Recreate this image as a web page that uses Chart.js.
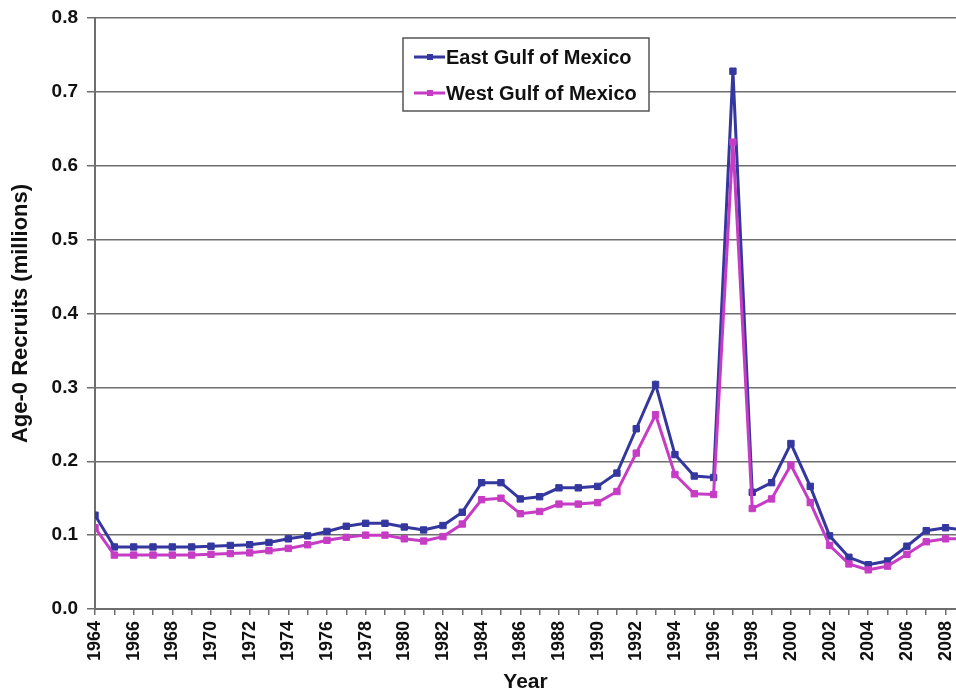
<!DOCTYPE html>
<html lang="en">
<head>
    <meta charset="UTF-8">
    <title>Age-0 Recruits, Gulf of Mexico</title>
    <script src="https://cdn.jsdelivr.net/npm/chart.js"></script>
    <style>
        body { margin: 0; background: #fff; }
        #wrap { width: 956px; height: 695px; }
    </style>
</head>
<body>
    <div id="wrap"><canvas id="recruitChart" width="956" height="695"></canvas></div>

    <script>
        var years = [1964, 1965, 1966, 1967, 1968, 1969, 1970, 1971, 1972, 1973,
                     1974, 1975, 1976, 1977, 1978, 1979, 1980, 1981, 1982, 1983,
                     1984, 1985, 1986, 1987, 1988, 1989, 1990, 1991, 1992, 1993,
                     1994, 1995, 1996, 1997, 1998, 1999, 2000, 2001, 2002, 2003,
                     2004, 2005, 2006, 2007, 2008, 2009];

        var eastGulf = [0.127, 0.084, 0.084, 0.084, 0.084, 0.084, 0.085, 0.086, 0.087, 0.090,
                        0.095, 0.099, 0.105, 0.112, 0.116, 0.116, 0.111, 0.107, 0.113, 0.131,
                        0.171, 0.171, 0.149, 0.152, 0.164, 0.164, 0.166, 0.184, 0.244, 0.304,
                        0.209, 0.180, 0.178, 0.728, 0.158, 0.171, 0.224, 0.166, 0.099, 0.070,
                        0.060, 0.065, 0.085, 0.106, 0.110, 0.107];

        var westGulf = [0.110, 0.073, 0.073, 0.073, 0.073, 0.073, 0.074, 0.075, 0.076, 0.079,
                        0.082, 0.087, 0.093, 0.097, 0.100, 0.100, 0.095, 0.092, 0.098, 0.115,
                        0.148, 0.150, 0.129, 0.132, 0.142, 0.142, 0.144, 0.159, 0.211, 0.263,
                        0.182, 0.156, 0.155, 0.632, 0.136, 0.149, 0.195, 0.144, 0.086, 0.061,
                        0.053, 0.058, 0.074, 0.091, 0.095, 0.095];

        var seriesNames = ['East Gulf of Mexico', 'West Gulf of Mexico'];
        var seriesColors = ['#33379e', '#c63cc4'];

        var FONT = '"Liberation Sans", Arial, sans-serif';
        var AXIS_GRAY = '#6e6e6e';

        function toPoints(vals) {
            return vals.map(function (v, i) { return { x: years[i], y: v }; });
        }

        // white page behind the canvas
        var whiteBg = {
            id: 'whiteBg',
            beforeDraw: function (chart) {
                var c = chart.ctx;
                c.save();
                c.fillStyle = '#fff';
                c.fillRect(0, 0, chart.width, chart.height);
                c.restore();
            }
        };

        // boxed legend sitting inside the plot
        var boxLegend = {
            id: 'boxLegend',
            afterDraw: function (chart) {
                var c = chart.ctx;
                var bx = 403, by = 38, bw = 246, bh = 73;
                c.save();
                c.fillStyle = '#fff';
                c.fillRect(bx, by, bw, bh);
                c.strokeStyle = '#555';
                c.lineWidth = 1.5;
                c.strokeRect(bx, by, bw, bh);
                c.font = 'bold 20px ' + FONT;
                c.textBaseline = 'middle';
                chart.data.datasets.forEach(function (ds, i) {
                    var y = by + 19 + i * 36;
                    c.strokeStyle = ds.borderColor;
                    c.lineWidth = 3;
                    c.beginPath();
                    c.moveTo(414, y);
                    c.lineTo(445, y);
                    c.stroke();
                    c.fillStyle = ds.borderColor;
                    c.fillRect(427, y - 3, 6, 6);
                    c.fillStyle = '#111';
                    c.fillText(ds.label, 446, y + 1);
                });
                c.restore();
            }
        };

        var ctx = document.getElementById('recruitChart').getContext('2d');
        var recruitChart = new Chart(ctx, {
            type: 'line',
            data: {
                datasets: [
                    {
                        label: seriesNames[0],
                        data: toPoints(eastGulf),
                        borderColor: seriesColors[0],
                        backgroundColor: seriesColors[0],
                        borderWidth: 3,
                        pointStyle: 'rect',
                        pointRadius: 4.5,
                        pointBorderWidth: 1,
                        order: 1
                    },
                    {
                        label: seriesNames[1],
                        data: toPoints(westGulf),
                        borderColor: seriesColors[1],
                        backgroundColor: seriesColors[1],
                        borderWidth: 3,
                        pointStyle: 'rect',
                        pointRadius: 4.5,
                        pointBorderWidth: 1,
                        order: 0
                    }
                ]
            },
            options: {
                responsive: false,
                animation: false,
                layout: { autoPadding: false, padding: { top: 18, right: 0, bottom: 0, left: 0 } },
                plugins: {
                    legend: { display: false },
                    tooltip: { enabled: false }
                },
                scales: {
                    x: {
                        type: 'linear',
                        min: 1964,
                        max: 2008.54,
                        afterFit: function (s) { s.height = 86; s.paddingLeft = 0; s.paddingRight = 0; },
                        grid: { drawOnChartArea: false, drawTicks: true, tickLength: 6, color: AXIS_GRAY, lineWidth: 1.5 },
                        border: { color: AXIS_GRAY, width: 2 },
                        ticks: {
                            stepSize: 1,
                            autoSkip: false,
                            includeBounds: false,
                            maxRotation: 90,
                            minRotation: 90,
                            padding: 6,
                            color: '#111',
                            font: { family: FONT, size: 18, weight: 'bold' },
                            callback: function (v) {
                                var yr = Math.round(v);
                                return (Math.abs(v - yr) < 1e-6 && yr % 2 === 0) ? String(yr) : '';
                            }
                        },
                        title: {
                            display: true,
                            text: 'Year',
                            color: '#111',
                            padding: { top: 0, bottom: 0 },
                            font: { family: FONT, size: 21, weight: 'bold' }
                        }
                    },
                    y: {
                        min: 0,
                        max: 0.8,
                        afterFit: function (s) { s.width = 95; s.paddingTop = 0; s.paddingBottom = 0; },
                        grid: { color: AXIS_GRAY, lineWidth: 1.5, tickLength: 8 },
                        border: { color: AXIS_GRAY, width: 2 },
                        ticks: {
                            stepSize: 0.1,
                            padding: 9,
                            color: '#111',
                            font: { family: FONT, size: 19, weight: 'bold' },
                            callback: function (v) { return v.toFixed(1); }
                        },
                        title: {
                            display: true,
                            text: 'Age-0 Recruits (millions)',
                            color: '#111',
                            padding: { top: 8, bottom: 0 },
                            font: { family: FONT, size: 22, weight: 'bold' }
                        }
                    }
                }
            },
            plugins: [whiteBg, boxLegend]
        });
    </script>
</body>
</html>
